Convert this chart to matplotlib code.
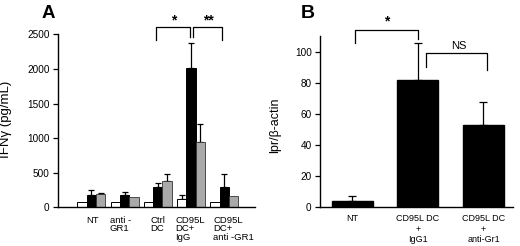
import matplotlib
matplotlib.use("Agg")
import matplotlib.pyplot as plt
import matplotlib.transforms as mtransforms
import numpy as np

plt.rcParams['font.family'] = ['Liberation Sans', 'DejaVu Sans']

# ---- Panel A data ----
groups_a = ["NT", "anti -\nGR1", "Ctrl\nDC", "CD95L\nDC+\nIgG", "CD95L\nDC+\nanti -GR1"]
white_vals = [72, 70, 72, 120, 72]
white_err = [0, 0, 0, 58, 0]
black_vals = [180, 178, 289, 2020, 293]
black_err = [70, 47, 67, 360, 184]
gray_vals = [195, 153, 380, 948, 163]
gray_err = [12, 0, 97, 262, 0]
yticks_a = [0, 500, 1000, 1500, 2000, 2500]

# ---- Panel B data ----
groups_b = ["NT", "CD95L DC\n+\nIgG1", "CD95L DC\n+\nanti-Gr1"]
vals_b = [4.2, 81.6, 52.9]
err_b = [3.2, 24.2, 15.0]
yticks_b = [0, 20, 40, 60, 80, 100]

W, H = 520, 246
fig = plt.figure(figsize=(W / 100, H / 100), dpi=100)

def fx(px):
    return px / W

def fy(py):
    return 1 - py / H

# Panel A axes
axA = fig.add_axes([fx(58), fy(207.3), fx(255) - fx(58), fy(34.3) - fy(207.3)])
x = np.arange(len(groups_a))
bw = 0.28
ekw = dict(elinewidth=0.9, capthick=0.9, ecolor='black')
axA.bar(x - bw, white_vals, bw, color='white', edgecolor='black', linewidth=0.7, zorder=2)
axA.bar(x, black_vals, bw, color='black', edgecolor='black', linewidth=0.7, zorder=2)
axA.bar(x + bw, gray_vals, bw, color='#a9a9a9', edgecolor='#333333', linewidth=0.6, zorder=2)
for off, v, e in [(-bw, white_vals, white_err), (0, black_vals, black_err), (bw, gray_vals, gray_err)]:
    ee = np.array(e, dtype=float)
    mask = ee > 0
    axA.errorbar((x + off)[mask], np.array(v)[mask], yerr=[np.zeros(mask.sum()), ee[mask]],
                 fmt='none', capsize=2.2, zorder=1, **ekw)
axA.set_xlim(-1.0, 4.92)
axA.set_ylim(0, 2500)
axA.set_yticks(yticks_a)
axA.set_xticks(x)
axA.set_xticklabels([])
axA.tick_params(axis='x', length=0)
axA.tick_params(axis='y', length=3.5, width=0.9, labelsize=7.2, pad=2.5)
for s in ['top', 'right']:
    axA.spines[s].set_visible(False)
for s in ['left', 'bottom']:
    axA.spines[s].set_linewidth(1.0)

# category labels A (left-aligned lines, slight horizontal nudges as in the original)
label_dx_px = [1.5, -4, 0, -1, 9]
base_tr = mtransforms.blended_transform_factory(axA.transData, axA.transAxes)
for xi, lab, dx in zip(x, groups_a, label_dx_px):
    tr = base_tr + mtransforms.ScaledTranslation(dx / 100, -8.5 / 100, fig.dpi_scale_trans)
    axA.text(xi, 0, lab, transform=tr, ha='center', va='top', fontsize=6.8,
             linespacing=0.95, multialignment='left')

# brackets A
lkw = dict(color='black', linewidth=0.9, clip_on=False)
axA.plot([1.95, 1.95, 2.96, 2.96], [2418, 2601, 2601, 2465], **lkw)
axA.plot([3.05, 3.05, 3.93, 3.93], [2465, 2601, 2601, 2418], **lkw)
axA.text(2.47, 2700, "*", ha='center', va='center', fontsize=10, fontweight='bold')
axA.text(3.52, 2700, "**", ha='center', va='center', fontsize=10, fontweight='bold')

# Panel B axes
axB = fig.add_axes([fx(320), fy(207.3), fx(513) - fx(320), fy(36.1) - fy(207.3)])
xb = np.arange(len(groups_b))
axB.bar(xb, vals_b, 0.62, color='black', edgecolor='black', zorder=2)
axB.errorbar(xb, vals_b, yerr=[np.zeros(len(err_b)), err_b], fmt='none', capsize=3.2,
             zorder=1, **ekw)
axB.set_xlim(-0.49, 2.45)
axB.set_ylim(0, 110)
axB.set_yticks(yticks_b)
axB.set_xticks(xb)
axB.set_xticklabels(groups_b, fontsize=6.5, linespacing=1.2)
axB.tick_params(axis='x', length=0, pad=5)
axB.tick_params(axis='y', length=3.5, width=0.9, labelsize=7.2, pad=2.5)
for s in ['top', 'right']:
    axB.spines[s].set_visible(False)
for s in ['left', 'bottom']:
    axB.spines[s].set_linewidth(1.0)

axB.plot([0.05, 0.05, 1.0, 1.0], [105.5, 113.7, 113.7, 108.3], **lkw)
axB.text(0.53, 119.5, "*", ha='center', va='center', fontsize=10, fontweight='bold')
axB.plot([1.13, 1.13, 2.06, 2.06], [90.1, 99.1, 99.1, 88.0], **lkw)
axB.text(1.62, 100.3, "NS", ha='center', va='bottom', fontsize=8)

# labels
fig.text(fx(6.5), fy(119), "IFNγ (pg/mL)", rotation=90, ha='center', va='center', fontsize=9.5)
fig.text(fx(275), fy(125), "lpr/β-actin", rotation=90, ha='center', va='center', fontsize=9)
fig.text(fx(42), fy(18), "A", ha='left', va='baseline', fontsize=13.5, fontweight='bold')
fig.text(fx(301), fy(18), "B", ha='left', va='baseline', fontsize=14, fontweight='bold')

fig.savefig("out.png", dpi=100)
